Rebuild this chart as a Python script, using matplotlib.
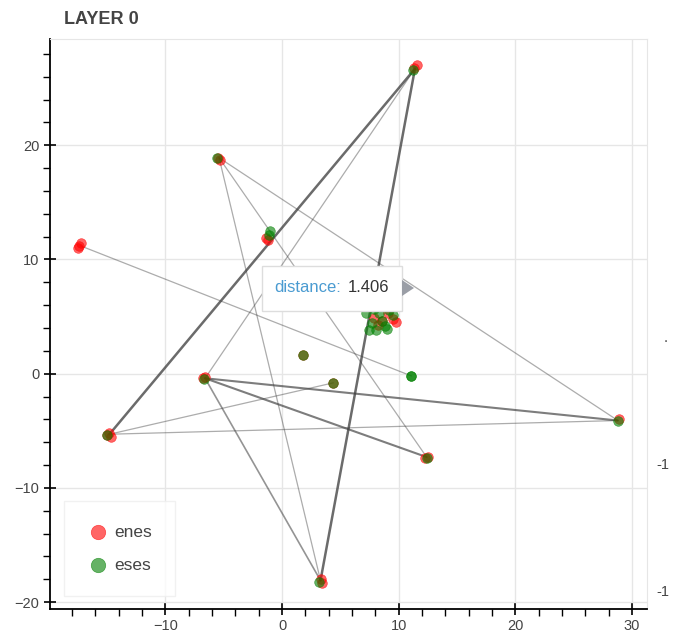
# -*- coding: utf-8 -*-
# Layer 0 embedding: enes / eses points with distance links

import numpy as np
import matplotlib.pyplot as plt
from matplotlib.patches import Rectangle, Polygon

plt.rcParams['font.family'] = ['Liberation Sans', 'DejaVu Sans']

# Points
enes_x = [11.6, 11.3, -5.3, -5.5, -1.2, -1.4, -17.4, -17.2, -17.5, -6.6, -6.8,
          -14.8, -15.0, -14.7, 1.8, 4.4, 28.9, 12.5, 12.3, 3.3, 3.4,
          8.6, 9.5, 9.8, 8.2, 9.1, 7.9]
enes_y = [27.0, 26.8, 18.7, 18.9, 11.7, 11.9, 11.2, 11.4, 11.0, -0.3, -0.4,
          -5.2, -5.4, -5.5, 1.6, -0.8, -4.0, -7.3, -7.4, -18.0, -18.3,
          4.6, 4.8, 4.5, 4.3, 5.3, 4.9]
eses_x = [11.2, -5.6, -1.0, -1.1, -6.7, -15.0, 1.8, 4.4, 11.1, 11.1, 28.8, 12.4, 3.2,
          7.2, 7.7, 7.5, 8.6, 9.0, 9.5, 8.3, 9.2, 8.1, 7.9, 8.8]
eses_y = [26.6, 18.9, 12.5, 12.1, -0.5, -5.4, 1.6, -0.8, -0.2, -0.2, -4.1, -7.4, -18.2,
          5.3, 4.4, 3.8, 4.6, 3.9, 5.1, 5.3, 5.6, 3.8, 5.7, 4.2]

# Links between groups: (x0, y0, x1, y1, count)
link_x0 = [11.4, 11.4, 11.4, -5.4, -5.4, -5.4, -17.3, -6.6, -6.6, -6.6, -14.8, -14.8]
link_y0 = [26.7, 26.7, 26.7, 18.9, 18.9, 18.9, 11.2, -0.4, -0.4, -0.4, -5.3, -5.3]
link_x1 = [-14.8, 3.3, -6.6, 28.8, 12.4, 3.3, 11.1, 28.8, 12.4, 3.3, 4.4, 28.8]
link_y1 = [-5.3, -18.1, -0.4, -4.1, -7.3, -18.1, -0.2, -4.1, -7.3, -18.1, -0.8, -4.1]
link_n = [4, 4, 1, 1, 1, 1, 1, 3, 3, 2, 1, 1]

tip_label = 'distance:'
tip_value = '1.406'

fig = plt.figure(figsize=(6.79, 6.35), dpi=100)
ax = fig.add_axes([50 / 679, 26 / 635, 597 / 679, 570 / 635])

# links
for x0, y0, x1, y1, n in zip(link_x0, link_y0, link_x1, link_y1, link_n):
    ax.plot([x0, x1], [y0, y1], color='#3a3a3a', lw=0.6 + 0.3 * n,
            alpha=min(0.3 + 0.12 * n, 0.75), zorder=2, solid_capstyle='round')

# points
ax.scatter(enes_x, enes_y, s=48, color='red', alpha=0.6, edgecolors='red',
           linewidths=0.5, zorder=3, label='enes')
ax.scatter(eses_x, eses_y, s=48, color='green', alpha=0.6, edgecolors='green',
           linewidths=0.5, zorder=3, label='eses')

ax.set_xlim(-19.9, 31.3)
ax.set_ylim(-20.6, 29.3)
ax.set_xticks([-10, 0, 10, 20, 30])
ax.set_yticks([-20, -10, 0, 10, 20])
ax.set_xticks(np.arange(-18, 32, 2), minor=True)
ax.set_yticks(np.arange(-20, 30, 2), minor=True)
ax.grid(True, color='#e6e6e6', lw=1)
ax.set_axisbelow(True)
ax.tick_params(which='major', direction='inout', length=9, width=1.2,
               labelsize=10.5, labelcolor='#444444', pad=3)
ax.tick_params(which='minor', direction='out', length=5, width=1)
for side in ['left', 'bottom']:
    ax.spines[side].set_linewidth(1.3)
for side in ['top', 'right']:
    ax.spines[side].set_color('#e6e6e6')

leg = ax.legend(loc='lower left', bbox_to_anchor=(0.024, 0.022), fontsize=12.5,
                frameon=True, fancybox=False, borderpad=1.35, labelspacing=1.05,
                handletextpad=0.3, markerscale=1.5, borderaxespad=0,
                handlelength=1.2)
leg.get_frame().set_edgecolor('#eeeeee')
for t in leg.get_texts():
    t.set_color('#444444')

fig.text(64 / 679, 1 - 20 / 635, 'LAYER 0', fontsize=13, fontweight='bold',
         color='#444444', va='center', ha='left')

# hover tooltip
fig.patches.append(Rectangle((262 / 679, 1 - 311 / 635), 140 / 679, 45 / 635,
                             transform=fig.transFigure, facecolor='white',
                             edgecolor='#dddddd', lw=1, zorder=10))
fig.patches.append(Polygon([(402 / 679, 1 - 280 / 635), (414 / 679, 1 - 288 / 635),
                            (402 / 679, 1 - 296 / 635)], closed=True,
                           transform=fig.transFigure, facecolor='#9a9ea6',
                           edgecolor='none', zorder=10))
fig.text(274 / 679, 1 - 288 / 635, tip_label, fontsize=12, color='#4a9bd1',
         va='center', ha='left', zorder=11)
fig.text(348 / 679, 1 - 288 / 635, tip_value, fontsize=12, color='#333333',
         va='center', ha='left', zorder=11)

# clipped labels of the neighbouring plot
fig.text(656 / 679, 1 - 465 / 635, '-1', fontsize=10.5, color='#444444', va='center')
fig.text(656 / 679, 1 - 592 / 635, '-1', fontsize=10.5, color='#444444', va='center')
fig.text(664 / 679, 1 - 338 / 635, '.', fontsize=10.5, color='#444444', va='center')

plt.savefig('out.png', dpi=100)
